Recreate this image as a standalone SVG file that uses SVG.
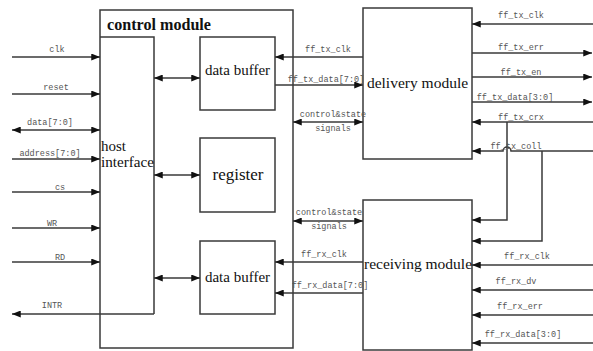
<svg xmlns="http://www.w3.org/2000/svg" width="593" height="351" viewBox="0 0 593 351">
<defs>
<marker id="ah" viewBox="0 0 10 8" refX="10" refY="4" markerWidth="9" markerHeight="7" markerUnits="userSpaceOnUse" orient="auto-start-reverse">
<path d="M0,0 L10,4 L0,8 z" fill="#111"/>
</marker>
<style>
.box{fill:#fff;stroke:#3a3a3a;stroke-width:1.5}
.ln{fill:none;stroke:#3a3a3a;stroke-width:1.5}
.a{marker-end:url(#ah)}
.b{marker-start:url(#ah);marker-end:url(#ah)}
.lb{font-family:"Liberation Mono",monospace;font-size:8.5px;fill:#555;text-anchor:middle}
.mt{font-family:"Liberation Serif",serif;fill:#111}
.c{text-anchor:middle}
</style>
</defs>
<rect width="593" height="351" fill="#fff"/>

<g id="control-module">
<rect class="box" x="100" y="10" width="193" height="338"/>
<text class="mt" x="107" y="30" font-size="16" font-weight="bold" textLength="104" lengthAdjust="spacingAndGlyphs" fill="#1a1a3a">control module</text>
</g>
<g id="host-interface">
<path class="ln" d="M100,37 H154 V314"/>
<text class="mt" x="101" y="151" font-size="15">host</text>
<text class="mt" x="101" y="167" font-size="15" textLength="53" lengthAdjust="spacingAndGlyphs">interface</text>
</g>
<g id="data-buffer-tx">
<rect class="box" x="200" y="37" width="75" height="73"/>
<text class="mt c" x="237.5" y="75" font-size="15">data buffer</text>
</g>
<g id="register">
<rect class="box" x="200" y="138" width="75" height="74"/>
<text class="mt c" x="238" y="180" font-size="17">register</text>
</g>
<g id="data-buffer-rx">
<rect class="box" x="200" y="241" width="75" height="73"/>
<text class="mt c" x="237.5" y="282" font-size="15">data buffer</text>
</g>
<g id="delivery-module">
<rect class="box" x="363" y="8" width="109" height="151"/>
<text class="mt c" x="417.5" y="88" font-size="15.5">delivery module</text>
</g>
<g id="receiving-module">
<rect class="box" x="363" y="200" width="109" height="150"/>
<text class="mt c" x="418" y="269" font-size="15.5">receiving module</text>
</g>

<g id="connectors">
<line class="ln a" x1="12" y1="57" x2="100" y2="57"/>
<line class="ln a" x1="12" y1="94" x2="100" y2="94"/>
<line class="ln b" x1="12" y1="130" x2="100" y2="130"/>
<line class="ln a" x1="12" y1="159" x2="100" y2="159"/>
<line class="ln a" x1="12" y1="192" x2="100" y2="192"/>
<line class="ln a" x1="12" y1="228" x2="100" y2="228"/>
<line class="ln a" x1="12" y1="262" x2="100" y2="262"/>
<line class="ln a" x1="154" y1="314" x2="12" y2="314"/>

<line class="ln b" x1="154" y1="78" x2="200" y2="78"/>
<line class="ln b" x1="154" y1="175" x2="200" y2="175"/>
<line class="ln b" x1="154" y1="278" x2="200" y2="278"/>

<line class="ln a" x1="363" y1="57" x2="275" y2="57"/>
<line class="ln a" x1="275" y1="85" x2="363" y2="85"/>
<line class="ln b" x1="293" y1="122" x2="363" y2="122"/>
<line class="ln b" x1="293" y1="221" x2="363" y2="221"/>
<line class="ln a" x1="363" y1="262" x2="275" y2="262"/>
<line class="ln a" x1="363" y1="293" x2="275" y2="293"/>

<line class="ln a" x1="593" y1="24" x2="472" y2="24"/>
<line class="ln a" x1="472" y1="53" x2="592" y2="53"/>
<line class="ln a" x1="472" y1="77" x2="592" y2="77"/>
<line class="ln a" x1="472" y1="102" x2="592" y2="102"/>
<line class="ln a" x1="593" y1="122" x2="472" y2="122"/>
<path class="ln a" d="M593,151 H511 A4,4 0 0 0 503,151 H472"/>
<path class="ln a" d="M507,122 V220 H472"/>
<path class="ln a" d="M542,151 V241 H472"/>

<line class="ln a" x1="593" y1="265" x2="472" y2="265"/>
<line class="ln a" x1="593" y1="290" x2="472" y2="290"/>
<line class="ln a" x1="593" y1="315" x2="472" y2="315"/>
<line class="ln a" x1="593" y1="343" x2="472" y2="343"/>

<text class="lb" x="57" y="52">clk</text>
<text class="lb" x="56" y="90">reset</text>
<text class="lb" x="50" y="125">data[7:0]</text>
<text class="lb" x="50" y="156">address[7:0]</text>
<text class="lb" x="60" y="190">cs</text>
<text class="lb" x="52" y="226">WR</text>
<text class="lb" x="60" y="260">RD</text>
<text class="lb" x="52" y="308">INTR</text>

<text class="lb" x="328" y="52">ff_tx_clk</text>
<text class="lb" x="326" y="82">ff_tx_data[7:0]</text>
<text class="lb" x="333" y="117">control&amp;state</text>
<text class="lb" x="333" y="131">signals</text>
<text class="lb" x="329" y="215">control&amp;state</text>
<text class="lb" x="329" y="229">signals</text>
<text class="lb" x="324" y="257">ff_rx_clk</text>
<text class="lb" x="330" y="288">ff_rx_data[7:0]</text>

<text class="lb" x="521" y="18">ff_tx_clk</text>
<text class="lb" x="521" y="50">ff_tx_err</text>
<text class="lb" x="521" y="75">ff_tx_en</text>
<text class="lb" x="515" y="100">ff_tx_data[3:0]</text>
<text class="lb" x="521" y="120">ff_tx_crx</text>
<text class="lb" x="516" y="149">ff_tx_coll</text>
<text class="lb" x="527" y="259">ff_rx_clk</text>
<text class="lb" x="516" y="284">ff_rx_dv</text>
<text class="lb" x="520" y="309">ff_rx_err</text>
<text class="lb" x="523" y="337">ff_rx_data[3:0]</text>
</g>
</svg>
